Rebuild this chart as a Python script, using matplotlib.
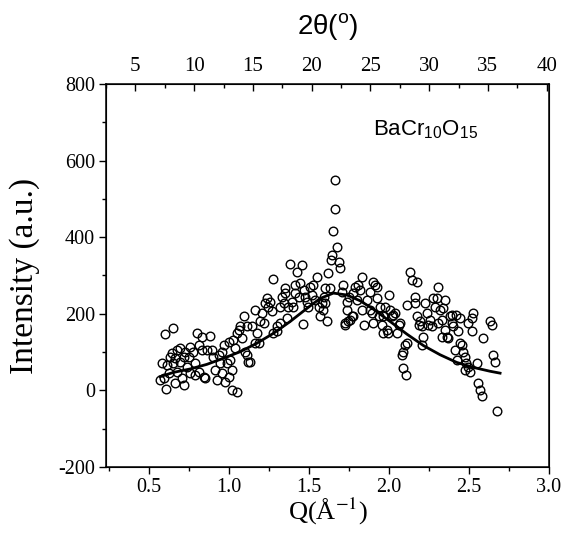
import matplotlib
matplotlib.use("Agg")
import matplotlib.pyplot as plt
from matplotlib.ticker import MultipleLocator

plt.rcParams['mathtext.fontset'] = 'custom'
plt.rcParams['mathtext.rm'] = 'Liberation Sans'
plt.rcParams['mathtext.it'] = 'Liberation Sans:italic'
plt.rcParams['axes.unicode_minus'] = False

# measured points, Q (1/A) and intensity (a.u.)
q = [0.600, 0.652, 0.579, 0.611, 0.569, 0.590, 0.606, 0.652, 0.631, 0.642,
     0.673, 0.694, 0.663, 0.673, 0.663, 0.704, 0.715, 0.694, 0.715, 0.725,
     0.746, 0.757, 0.736, 0.757, 0.627,
     0.777, 0.788, 0.798, 0.829, 0.809, 0.829, 0.788, 0.809, 0.840, 0.850,
     0.861, 0.881, 0.892, 0.902, 0.913, 0.923, 0.944, 0.954, 0.965, 0.934,
     0.975, 0.954,
     0.986, 0.996, 1.006, 1.017, 0.996, 1.017, 1.048, 1.027, 1.048, 1.059,
     1.069, 1.090, 1.079, 1.038, 1.100, 1.111, 1.121, 1.131, 1.111, 1.142,
     1.163, 1.173, 1.163, 1.194, 1.184,
     1.215, 1.225, 1.204, 1.236, 1.246, 1.257, 1.267, 1.273, 1.277, 1.298,
     1.298, 1.319, 1.319, 1.329, 1.340, 1.350, 1.361, 1.350, 1.371, 1.382,
     1.392, 1.402, 1.413, 1.413, 1.423, 1.434, 1.454, 1.444, 1.465,
     1.461, 1.475, 1.486, 1.496, 1.507, 1.517, 1.527, 1.538, 1.548, 1.559,
     1.569, 1.579, 1.590, 1.600, 1.611, 1.621, 1.631, 1.586, 1.600,
     1.642, 1.636, 1.663, 1.659, 1.652, 1.673, 1.684, 1.694, 1.704, 1.715,
     1.725, 1.736, 1.746, 1.757, 1.777, 1.736, 1.752, 1.788, 1.808, 1.829,
     1.777, 1.798, 1.725, 1.767,
     1.819, 1.829, 1.844, 1.861, 1.881, 1.892, 1.902, 1.913, 1.923, 1.927,
     1.902, 1.934, 1.944, 1.954, 1.965, 1.975, 1.986, 1.996, 2.002, 2.006,
     2.017, 2.027, 2.038, 2.048, 1.881, 1.965,
     2.059, 2.069, 2.079, 2.090, 2.100, 2.111, 2.090, 2.104, 2.111, 2.131,
     2.142, 2.163, 2.173, 2.163, 2.173, 2.184, 2.194, 2.204, 2.215, 2.225,
     2.204,
     2.236, 2.246, 2.257, 2.267, 2.277, 2.288, 2.298, 2.309, 2.319, 2.329,
     2.340, 2.350, 2.350, 2.361, 2.371, 2.382, 2.392, 2.402, 2.413, 2.419,
     2.423, 2.309, 2.329,
     2.434, 2.444, 2.454, 2.465, 2.475, 2.481, 2.475, 2.496, 2.507, 2.517,
     2.517, 2.527, 2.548, 2.559, 2.569, 2.579, 2.590, 2.631, 2.642, 2.648,
     2.663, 2.673, 2.392, 2.444, 2.496]
intensity = [147, 162, 71, 66, 27, 32, 4, 71, 88, 97,
             106, 110, 84, 49, 20, 32, 14, 75, 88, 101,
             88, 114, 62, 45, 45,
             101, 71, 149, 140, 119, 106, 40, 49, 36, 32,
             106, 143, 106, 88, 53, 27, 71, 101, 119, 93,
             23, 45,
             71, 127, 80, 53, 36, 1, -3, 132, 149, 158,
             167, 193, 136, 110, 101, 93, 75, 73, 167, 167,
             123, 149, 210, 180, 123,
             175, 227, 201, 241, 219, 232, 206, 291, 149, 154,
             167, 175, 219, 245, 227, 254, 188, 267, 219, 329,
             232, 219, 254, 275, 310, 245, 328, 280, 262,
             174, 245, 232, 219, 271, 249, 275, 236, 297, 219,
             193, 227, 245, 267, 180, 306, 267, 210, 227,
             354, 341, 549, 473, 415, 375, 336, 319, 258, 275,
             175, 210, 180, 184, 193, 232, 245, 271, 275, 295,
             254, 236, 171, 193,
             262, 210, 171, 236, 258, 201, 284, 275, 271, 241,
             175, 193, 219, 171, 149, 219, 158, 149, 249, 210,
             193, 197, 201, 149, 210, 193,
             171, 175, 93, 101, 119, 123, 58, 40, 223, 308,
             288, 245, 282, 227, 193, 171, 180, 119, 140, 227,
             167,
             201, 171, 184, 167, 241, 219, 241, 269, 210, 184,
             214, 236, 158, 140, 136, 193, 175, 167, 106, 197,
             80, 175, 140,
             154, 123, 119, 101, 88, 71, 53, 62, 49, 154,
             188, 201, 71, 19, 1, -14, 136, 180, 171, 93,
             75, -53, 197, 188, 175]

# fitted curve
fit_q = [0.569, 0.652, 0.757, 0.861, 0.965, 1.069, 1.173, 1.277, 1.382, 1.486,
         1.569, 1.652, 1.736, 1.819, 1.902, 2.006, 2.111, 2.215, 2.319, 2.423,
         2.527, 2.631, 2.694]
fit_i = [36, 47, 56, 68, 84, 101, 123, 149, 180, 214,
         240, 254, 249, 234, 212, 180, 147, 117, 93, 73,
         60, 50, 45]

fig = plt.figure(figsize=(5.65, 5.4), dpi=100)
ax = fig.add_axes([0.1876, 0.1352, 0.7841, 0.7093])

ax.plot(q, intensity, 'o', ms=6.2, mfc='none', mec='black', mew=1.0)
ax.plot(fit_q, fit_i, '-', color='black', lw=2.0)

ax.set_xlim(0.23, 3.0)
ax.set_ylim(-200, 800)
ax.xaxis.set_major_locator(MultipleLocator(0.5))
ax.xaxis.set_minor_locator(MultipleLocator(0.25))
ax.yaxis.set_major_locator(MultipleLocator(200))
ax.yaxis.set_minor_locator(MultipleLocator(100))
ax.xaxis.set_major_formatter(matplotlib.ticker.FormatStrFormatter('%.1f'))
ax.tick_params(which='major', direction='out', length=5, width=1.0, labelsize=14.5, pad=3)
ax.tick_params(which='minor', direction='out', length=3, width=1.0)
ax.tick_params(right=False, top=False)
for lab in ax.get_xticklabels() + ax.get_yticklabels():
    lab.set_family('Liberation Serif')
for s in ax.spines.values():
    s.set_linewidth(1.1)

ax.set_xlabel('Q(Å$^{\\mathrm{-1}}$)', fontsize=19, family='Liberation Serif',
              math_fontfamily='stix', va='center')
ax.xaxis.set_label_coords(0.5, -0.115)
ax.set_ylabel('Intensity (a.u.)', fontsize=24, family='Liberation Serif', va='center')
ax.yaxis.set_label_coords(-0.183, 0.5)

ax2 = ax.twiny()
ax2.set_xlim(2.5, 40.2)
ax2.xaxis.set_major_locator(MultipleLocator(5))
ax2.xaxis.set_minor_locator(MultipleLocator(2.5))
ax2.tick_params(which='major', direction='in', length=5, width=1.0, labelsize=15, pad=6)
ax2.tick_params(which='minor', direction='in', length=3, width=1.0)
ax2.tick_params(axis='y', which='both', left=False, right=False,
                labelleft=False, labelright=False)
for lab in ax2.get_xticklabels():
    lab.set_family('Liberation Serif')
ax2.set_xlabel('2θ($^{\\mathrm{o}}$)', fontsize=20, family='Liberation Sans', va='center')
ax2.xaxis.set_label_coords(0.5, 1.151)

ax.text(0.603, 0.867, 'BaCr$_{10}$O$_{15}$', transform=ax.transAxes,
        fontsize=16, family='Liberation Sans', va='baseline')

fig.savefig('out.png', dpi=100)
